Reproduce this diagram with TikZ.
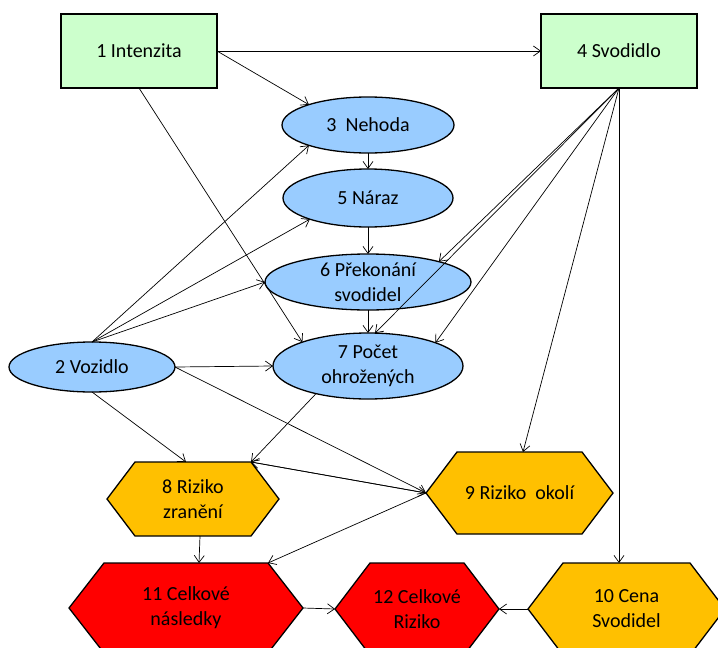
\documentclass[tikz,border=0pt]{standalone}
\usepackage{fontspec}
\setmainfont{Carlito}
\usetikzlibrary{shapes.geometric,arrows.meta,backgrounds}
\definecolor{boxgreen}{HTML}{CCFFCC}
\definecolor{ovalblue}{HTML}{99CCFF}
\definecolor{hexorange}{HTML}{FFC000}
\definecolor{hexred}{HTML}{FF0000}
\newcommand\lblfont{\fontsize{20pt}{25pt}\selectfont}
\tikzset{
  shapeline/.style={draw=black, line width=1.3pt},
  greenbox/.style={shapeline, rectangle, fill=boxgreen, inner sep=0pt, outer sep=0pt,
    minimum width=156pt, minimum height=74pt, font=\lblfont},
  oval/.style={shapeline, ellipse, fill=ovalblue, inner sep=0pt, outer sep=0pt},
  txt/.style={font=\lblfont, align=center, inner sep=0pt},
  hexn/.style={rectangle, inner sep=0pt, outer sep=0pt, font=\lblfont, align=center},
  arr/.style={-{Straight Barb[length=7pt,width=10pt]}, line width=0.7pt},
}
\newcommand\hexbg[3]{%
  \begin{pgfonlayer}{background}
  \draw[shapeline, fill=#3] (#1.west) -- ([xshift=#2]#1.north west) -- ([xshift=-#2]#1.north east)
    -- (#1.east) -- ([xshift=-#2]#1.south east) -- ([xshift=#2]#1.south west) -- cycle;
  \end{pgfonlayer}}
\begin{document}
\begin{tikzpicture}[x=1pt,y=-1pt]
\useasboundingbox (0,0) rectangle (718,648);
\clip (0,0) rectangle (718,648);
% rectangles
\node[greenbox] (n1) at (139,51) {1 Intenzita};
\node[greenbox] (n4) at (619,51) {4 Svodidlo};
% ellipses
\node[oval, minimum width=172pt, minimum height=56pt] (n3) at (368,125) {};
\node[txt] (t3) at (n3) {3\ \ Nehoda};
\node[oval, minimum width=170pt, minimum height=58pt] (n5) at (368,198) {};
\node[txt] (t5) at (n5) {5 Náraz};
\node[oval, minimum width=206pt, minimum height=56pt] (n6) at (368,282) {};
\node[txt] (t6) at (n6) {6 Překonání\\svodidel};
\node[oval, minimum width=190pt, minimum height=66pt] (n7) at (368,366) {};
\node[txt] (t7) at (n7) {7 Počet\\ohrožených};
\node[oval, minimum width=166pt, minimum height=50pt] (n2) at (92,367) {};
\node[txt] (t2) at (n2) {2 Vozidlo};
% hexagons
\node[hexn, minimum width=172pt, minimum height=74pt] (n8) at (193,499) {8 Riziko\\zranění};
\hexbg{n8}{28pt}{hexorange}
\node[hexn, minimum width=187pt, minimum height=82pt] (n9) at (519.5,493) {9 Riziko\ \ okolí};
\hexbg{n9}{31pt}{hexorange}
\node[hexn, minimum width=234pt, minimum height=90pt] (n11) at (186,608) {11 Celkové\\následky};
\hexbg{n11}{35pt}{hexred}
\node[hexn, minimum width=164pt, minimum height=92pt] (n12) at (417,609) {12 Celkové\\Riziko};
\hexbg{n12}{35pt}{hexred}
\node[hexn, minimum width=197pt, minimum height=92pt] (n10) at (626.5,609) {10 Cena\\Svodidel};
\hexbg{n10}{35pt}{hexorange}
% helper points
\coordinate (c8tr) at ([xshift=-28pt]n8.north east);
\coordinate (c8top) at ([xshift=-7pt]n8.north);
\coordinate (c11tr) at ([xshift=-35pt]n11.north east);
% edges
\draw[arr] (n1.east) -- (n4.west);
\draw[arr] (n1.east) -- (n3.161);
\draw[arr] (n1.south) -- (n7.160.8);
\draw[arr] (n2.north) -- (n3.199.3);
\draw[arr] (n2.north) -- (n5.200.8);
\draw[arr] (n2.north) -- (n6.west);
\draw[arr] (n2.east) -- (n7.west);
\draw[arr] (n2.south) -- (c8top);
\draw[arr] (n2.east) -- (n9.west);
\draw[arr] (n3.south) -- (n5.north);
\draw[arr] (n5.south) -- (n6.north);
\draw[arr] (n6.south) -- (n7.north);
\draw[arr] (n4.south) -- (n6.16.6);
\draw[arr] (n4.south) -- (n7.78);
\draw[arr] (n4.south) -- (n7.19);
\draw[arr] (n4.south) -- ([xshift=3.5pt]n9.north);
\draw[arr] (n4.south) -- (n4.south |- n10.north);
\draw[arr] (n7.208.7) -- (c8tr);
\draw[arr] (n9.west) -- (c8tr);
\draw[arr] (c8tr) -- (n9.west);
\draw[arr] (n9.west) -- (c11tr);
\draw[arr] ([xshift=7pt]n8.south) -- ([xshift=13pt]n11.north);
\draw[arr] (n11.east) -- (n12.west);
\draw[arr] (n10.west) -- (n12.east);
\end{tikzpicture}
\end{document}
